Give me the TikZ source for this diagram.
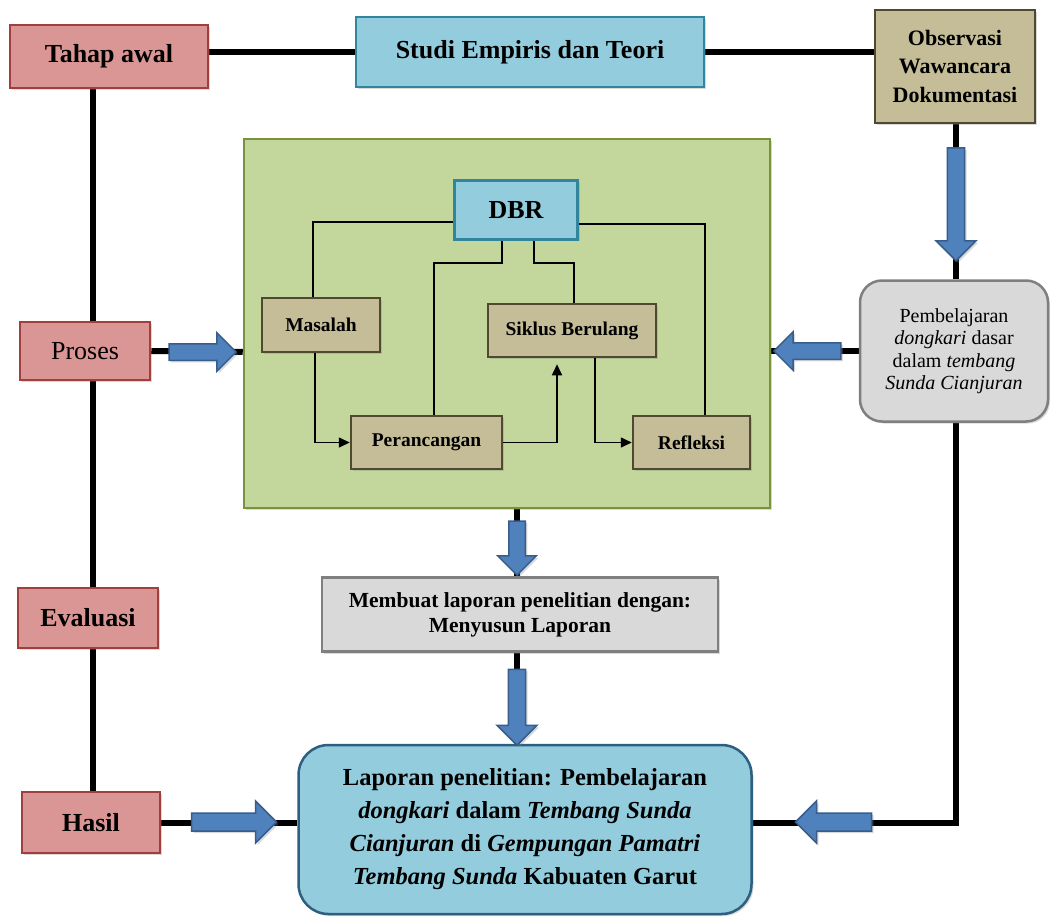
\documentclass[tikz,border=0pt]{standalone}
\usepackage{fontspec}
\setmainfont{Liberation Serif}
\usetikzlibrary{shapes.arrows,arrows.meta,backgrounds,shadows}
\definecolor{RedFill}{HTML}{DA9694}
\definecolor{RedLine}{HTML}{A0403D}
\definecolor{BlueFill}{HTML}{93CDDD}
\definecolor{BlueLine}{HTML}{31859C}
\definecolor{TanFill}{HTML}{C4BD97}
\definecolor{TanLine}{HTML}{4F4A2F}
\definecolor{GreenFill}{HTML}{C3D69B}
\definecolor{GreenLine}{HTML}{77933C}
\definecolor{GreyFill}{HTML}{D9D9D9}
\definecolor{GreyLine}{HTML}{7F7F7F}
\definecolor{BigLine}{HTML}{2E5E80}
\definecolor{ArrFill}{HTML}{4F81BD}
\definecolor{ArrLine}{HTML}{385D8A}
\tikzset{
  shd/.style={drop shadow={shadow xshift=2pt,shadow yshift=-2pt,opacity=0.3}},
  basebox/.style={rectangle,line width=2.5pt,inner sep=2pt,align=center,shd},
  redbox/.style={basebox,draw=RedLine,fill=RedFill,font=\bfseries\fontsize{26}{30}\selectfont},
  bluebox/.style={basebox,draw=BlueLine,fill=BlueFill,font=\bfseries\fontsize{26}{30}\selectfont},
  tanbox/.style={basebox,draw=TanLine,fill=TanFill,font=\bfseries\fontsize{19.5}{24}\selectfont},
  greybox/.style={basebox,draw=GreyLine,fill=GreyFill},
  conn/.style={line width=6pt,black},
  inner/.style={line width=1.6pt,black},
  tip/.style={-{Triangle[length=11pt,width=10pt]}},
  blk/.style={single arrow,draw=ArrLine,fill=ArrFill,line width=1.5pt,
    inner xsep=0pt,inner ysep=7.5pt,single arrow head extend=11pt,
    single arrow tip angle=90,shd},
}
\begin{document}
\begin{tikzpicture}[x=1pt,y=-1pt]
\useasboundingbox (0,0) rectangle (1051,917);
% top row
\node[redbox,minimum width=198,minimum height=63] (tahap) at (109,56.5) {Tahap awal};
\node[bluebox,minimum width=348,minimum height=70] (studi) at (530,52) {Studi Empiris dan Teori};
\node[tanbox,minimum width=160,minimum height=113,font=\bfseries\fontsize{22}{28.5}\selectfont] (obs) at (955,66.5) {Observasi\\Wawancara\\Dokumentasi};
% left column
\node[redbox,minimum width=130,minimum height=58,font=\fontsize{26}{30}\selectfont] (proses) at (85,351) {Proses};
\node[redbox,minimum width=140,minimum height=60] (eval) at (88,618) {Evaluasi};
\node[redbox,minimum width=138,minimum height=61] (hasil) at (91,822.5) {Hasil};
% green panel
\node[rectangle,draw=GreenLine,fill=GreenFill,line width=2.5pt,minimum width=526,minimum height=369,shd] (green) at (507,323.5) {};
\node[bluebox,minimum width=123,minimum height=59] (dbr) at (516,210) {DBR};
\node[tanbox,minimum width=118,minimum height=54] (masalah) at (321,325) {Masalah};
\node[tanbox,minimum width=168,minimum height=53] (sik) at (572,330.5) {Siklus Berulang};
\node[tanbox,minimum width=151,minimum height=53] (perc) at (426.5,442.5) {Perancangan};
\node[tanbox,minimum width=117,minimum height=53] (refl) at (691.5,442.5) {Refleksi};
% right column
\node[greybox,rounded corners=22pt,minimum width=188,minimum height=141,font=\fontsize{20}{22.5}\selectfont] (pemb) at (954,351)
  {Pembelajaran\\\textit{dongkari} dasar\\dalam \textit{tembang}\\\textit{Sunda Cianjuran}};
% bottom
\node[greybox,minimum width=396,minimum height=74,font=\bfseries\fontsize{21.5}{25}\selectfont] (memb) at (520,614.5)
  {Membuat laporan penelitian dengan:\\Menyusun Laporan};
\node[basebox,draw=BigLine,fill=BlueFill,rounded corners=30pt,minimum width=453,minimum height=169,font=\bfseries\fontsize{24.5}{33}\selectfont] (big) at (525,829.5)
  {Laporan penelitian: Pembelajaran\\\textit{dongkari} dalam \textit{Tembang Sunda}\\\textit{Cianjuran} di \textit{Gempungan Pamatri}\\\textit{Tembang Sunda} Kabuaten Garut};
% block arrows
\node[blk,minimum height=67,minimum width=37] (a1) at (198.5,352) {};
\node[blk,minimum height=67,minimum width=37,rotate=180] (a2) at (811.5,351) {};
\node[blk,minimum height=113,minimum width=40,rotate=-90] (a3) at (956,200) {};
\node[blk,minimum height=54,minimum width=37,rotate=-90] (a4) at (517,544) {};
\node[blk,minimum height=76,minimum width=40,rotate=-90] (a5) at (517,703) {};
\node[blk,minimum height=85,minimum width=42,rotate=0] (a6) at (229.5,822) {};
\node[blk,minimum height=76,minimum width=42,rotate=180] (a7) at (838,822) {};
% connectors
\coordinate (vx) at (93,0);
\coordinate (vr) at (956,0);
\coordinate (vm) at (517,0);
\begin{scope}[on background layer]
\draw[conn] (studi.west -| tahap.east) -- (studi.west);
\draw[conn] (studi.east) -- (obs.west |- studi.east);
\draw[conn] (tahap.south -| vx) -- (hasil.north -| vx);
\draw[conn] (proses.east) -- (green.west |- a1);
\draw[conn] (obs.south -| vr) -- (pemb.north -| vr);
\draw[conn] (pemb.west) -- (pemb.west -| green.east);
\draw[conn] (pemb.south -| vr) |- (big.east |- hasil);
\draw[conn] (hasil.east) -- (hasil -| big.west);
\draw[conn] (green.south -| vm) -- (memb.north -| vm);
\draw[conn] (memb.south -| vm) -- (big.north -| vm);
\end{scope}
% inner DBR connectors
\draw[inner] (dbr.west |- 0,222) -| (masalah.north -| 313,0);
\draw[inner] (dbr.east |- 0,224) -| (refl.north -| 705,0);
\draw[inner] (dbr.south -| 502,0) -- (502,263) -| (perc.north -| 434,0);
\draw[inner] (dbr.south -| 534,0) -- (534,263) -| (sik.north -| 574,0);
\draw[inner,tip] (masalah.south -| 315,0) |- (perc.west);
\draw[inner,tip,shorten >=6pt] (perc.east) -| (sik.south -| 557,0);
\draw[inner,tip] (sik.south -| 595,0) |- (refl.west);
\end{tikzpicture}
\end{document}
